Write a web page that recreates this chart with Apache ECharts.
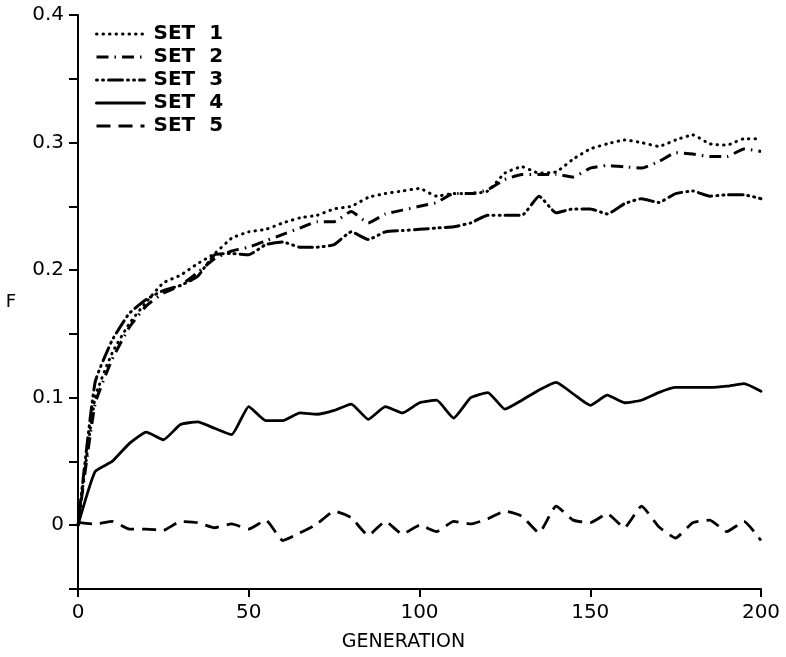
<!DOCTYPE html>
<html>
<head>
<meta charset="utf-8">
<script src="https://cdn.jsdelivr.net/npm/echarts@6/dist/echarts.min.js"></script>
<style>html,body{margin:0;padding:0;background:#fff;}#c{width:786px;height:657px;}</style>
</head>
<body>
<div id="c"></div>
<script>
const generations = [0,5,10,15,20,25,30,35,40,45,50,55,60,65,70,75,80,85,90,95,100,105,110,115,120,125,130,135,140,145,150,155,160,165,170,175,180,185,190,195,200];
const set1 = [0,0.10,0.135,0.158,0.175,0.19,0.196,0.205,0.213,0.225,0.23,0.232,0.237,0.241,0.243,0.248,0.25,0.257,0.26,0.262,0.264,0.258,0.26,0.26,0.262,0.276,0.281,0.276,0.277,0.287,0.295,0.299,0.302,0.3,0.297,0.302,0.306,0.299,0.298,0.303,0.303];
const set2 = [0,0.095,0.13,0.155,0.172,0.182,0.188,0.198,0.209,0.215,0.218,0.223,0.228,0.233,0.238,0.238,0.246,0.237,0.244,0.247,0.25,0.253,0.26,0.26,0.263,0.271,0.275,0.275,0.275,0.273,0.28,0.282,0.281,0.28,0.285,0.292,0.291,0.289,0.289,0.295,0.293];
const set3 = [0,0.112,0.145,0.166,0.177,0.184,0.188,0.195,0.212,0.213,0.212,0.22,0.222,0.218,0.218,0.22,0.23,0.224,0.23,0.231,0.232,0.233,0.234,0.237,0.243,0.243,0.243,0.258,0.245,0.248,0.248,0.244,0.252,0.256,0.253,0.26,0.262,0.258,0.259,0.259,0.256];
const set4 = [0,0.042,0.05,0.064,0.073,0.067,0.079,0.081,0.076,0.071,0.093,0.082,0.082,0.088,0.087,0.09,0.095,0.083,0.093,0.088,0.096,0.098,0.084,0.1,0.104,0.091,0.098,0.106,0.112,0.103,0.094,0.102,0.096,0.098,0.104,0.108,0.108,0.108,0.109,0.111,0.105];
const set5 = [0.002,0.001,0.003,-0.003,-0.003,-0.004,0.003,0.002,-0.002,0.001,-0.003,0.004,-0.012,-0.006,0.001,0.011,0.006,-0.008,0.003,-0.007,0,-0.005,0.003,0.001,0.005,0.011,0.007,-0.006,0.015,0.004,0.002,0.009,-0.002,0.015,-0.001,-0.01,0.002,0.004,-0.005,0.003,-0.012];
const seriesNames = ['SET  1','SET  2','SET  3','SET  4','SET  5'];
const xTicks = [0,50,100,150,200];
const yLabelValues = [0,0.1,0.2,0.3,0.4];

const values = [set1,set2,set3,set4,set5];
const dashTypes = [[0.5,6],[12,6,1.5,6],[1,5,1,5,14,5],'solid',[14,8]];
const caps = ['round','butt','round','round','butt'];
const widths = [3,3,3,2.8,2.8];

const chart = echarts.init(document.getElementById('c'), null, {renderer:'canvas'});
const series = values.map((vals,i)=>({
  name: seriesNames[i],
  type: 'line',
  data: generations.map((g,k)=>[g, vals[k]]),
  symbol: 'none',
  showSymbol: false,
  smooth: 0.15,
  lineStyle: {color:'#000', width: widths[i], type: dashTypes[i], cap: caps[i]},
  itemStyle: {color:'#000'},
  animation: false
}));

chart.setOption({
  backgroundColor: '#fff',
  animation: false,
  grid: {left: 78, right: 25, top: 15, bottom: 67},
  legend: {
    show: true,
    orient: 'vertical', left: 90, top: 19,
    itemWidth: 48, itemHeight: 14, itemGap: 3,
    itemStyle: {opacity: 0},
    lineStyle: {width: 3},
    textStyle: {fontFamily: 'DejaVu Sans', fontWeight: 'bold', fontSize: 20, color: '#000', padding: [0,0,0,4]},
    data: seriesNames
  },
  xAxis: {
    type: 'value', min: 0, max: 200, interval: 50,
    name: 'GENERATION', nameLocation: 'middle', nameGap: 44,
    nameTextStyle: {fontFamily: 'DejaVu Sans', fontSize: 19, color: '#000', padding: [0, 32, 0, 0]},
    axisLine: {show: true, onZero: false, lineStyle: {color:'#000', width: 2}},
    axisTick: {show: true, inside: false, length: 8, lineStyle: {color:'#000', width: 2}},
    axisLabel: {fontFamily: 'DejaVu Sans', fontSize: 20, color: '#000', margin: 14,
      formatter: v => xTicks.indexOf(Math.round(v)) >= 0 ? String(Math.round(v)) : ''},
    splitLine: {show: false}
  },
  yAxis: {
    type: 'value', min: -0.05, max: 0.4, interval: 0.05,
    name: 'F', nameLocation: 'middle', nameGap: 62, nameRotate: 0,
    nameTextStyle: {fontFamily: 'DejaVu Sans', fontSize: 18, color: '#000'},
    axisLine: {show: true, onZero: false, lineStyle: {color:'#000', width: 2}},
    axisTick: {show: true, inside: false, length: 9, lineStyle: {color:'#000', width: 2}},
    axisLabel: {fontFamily: 'DejaVu Sans', fontSize: 20, color: '#000', margin: 14,
      formatter: v => {
        const r = Math.round(v*100);
        const hit = yLabelValues.find(t => Math.round(t*100) === r);
        if (hit === undefined) return '';
        return r === 0 ? '0' : hit.toFixed(1);
      }},
    splitLine: {show: false}
  },
  series: series
});
</script>
</body>
</html>
